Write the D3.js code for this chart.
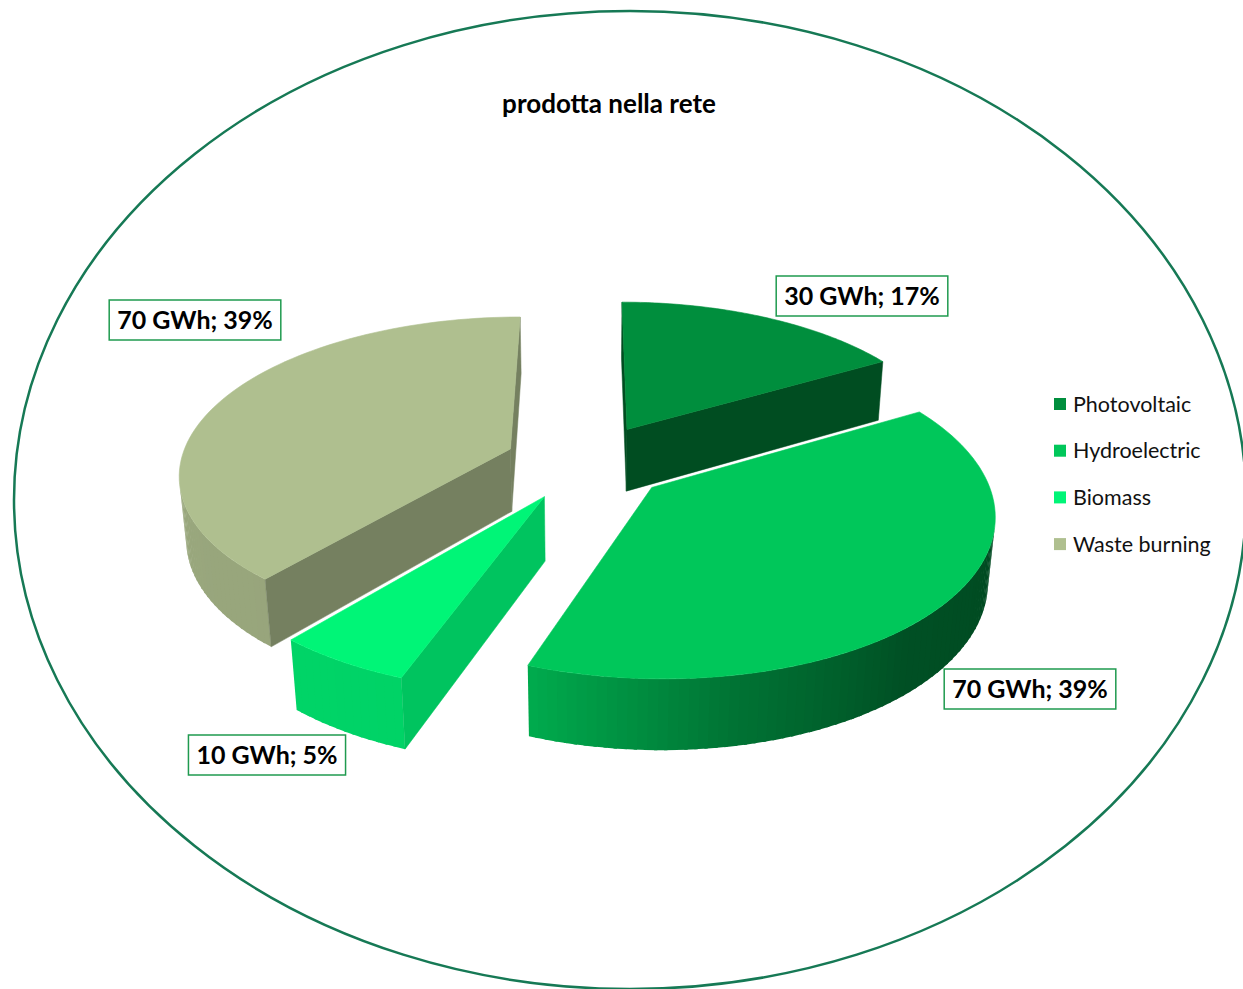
<!DOCTYPE html>
<html>
<head>
<meta charset="utf-8">
<script src="https://cdn.jsdelivr.net/npm/d3@7"></script>
<style>
  body { margin: 0; background: #fff; }
  svg { display: block; font-family: Lato, "Open Sans", sans-serif; }
</style>
</head>
<body>
<svg id="chart"></svg>
<script>
// dati
const categories = ["Photovoltaic", "Hydroelectric", "Biomass", "Waste burning"];
const energyGWh = [30, 70, 10, 70];
const sharePct = [17, 39, 5, 39];

// stile
const sliceColors = ["#008e3d", "#00c75a", "#00f577", "#afbf8f"];
const cutShade = [0.54, 0.5, 0.8, 0.67];
const labelCenters = [[862, 296], [1030, 689], [267, 755], [195, 320]];

const width = 1243, height = 989;

// vista 3D
const cx = 587, cy = 462, S = 330;
const phi = 28 * Math.PI / 180;
const D = 6;          // distanza camera (in raggi)
const explode = 0.25; // esplosione fette
const thick = 0.22;   // spessore torta

const sinP = Math.sin(phi), cosP = Math.cos(phi);
const cam = [0, D * sinP, D * cosP];

function project(X, Y, Z) {
  const u = Y * cosP - Z * sinP;
  const w = Y * sinP + Z * cosP;
  const p = D / (D - w);
  return [cx + S * X * p, cy - S * u * p, w];
}

const wallShade = d3.scaleLinear()
  .domain([90, 140, 170, 200, 270])
  .range([0.36, 0.40, 0.58, 0.86, 0.88])
  .clamp(true);

function shade(color, k) {
  const c = d3.rgb(color);
  return d3.rgb(c.r * k, c.g * k, c.b * k).formatHex();
}

const svg = d3.select("#chart")
  .attr("width", width)
  .attr("height", height);

// cornice ellittica
svg.append("ellipse")
  .attr("cx", 630).attr("cy", 500)
  .attr("rx", 616).attr("ry", 489)
  .attr("fill", "none")
  .attr("stroke", "#167955")
  .attr("stroke-width", 2.5);

// titolo
svg.append("text")
  .attr("x", 609).attr("y", 113)
  .attr("text-anchor", "middle")
  .style("font-weight", "bold")
  .style("font-size", "26px")
  .text("prodotta nella rete");

const arcs = d3.pie().sort(null).value(d => d)(energyGWh);

const slices = arcs.map((a, i) => {
  const mid = (a.startAngle + a.endAngle) / 2;
  return {
    i, a0: a.startAngle, a1: a.endAngle,
    ox: explode * Math.sin(mid),
    oz: -explode * Math.cos(mid)
  };
});

const line = d3.line();
const pie3d = svg.append("g");

function visible(n, P) {
  return n[0] * (cam[0] - P[0]) + n[1] * (cam[1] - P[1]) + n[2] * (cam[2] - P[2]) > 0;
}

// disegna dalla fetta più lontana a quella più vicina
slices.slice().sort((a, b) => a.oz - b.oz).forEach(s => {
  const base = sliceColors[s.i];
  const rim = (t, Y) => [s.ox + Math.sin(t), Y, s.oz - Math.cos(t)];
  const apex = Y => [s.ox, Y, s.oz];
  const faces = [];

  // parete esterna a strisce (leggera sovrapposizione per evitare fessure)
  const steps = Math.max(2, Math.ceil((s.a1 - s.a0) / (1.5 * Math.PI / 180)));
  const pad = 0.5 * Math.PI / 180;
  for (let k = 0; k < steps; k++) {
    const t0 = s.a0 + (s.a1 - s.a0) * k / steps;
    const t1 = Math.min(s.a1, s.a0 + (s.a1 - s.a0) * (k + 1) / steps + pad);
    const tm = (t0 + t1) / 2;
    const pts = [rim(t0, 0), rim(t1, 0), rim(t1, -thick), rim(t0, -thick)];
    const n = [Math.sin(tm), 0, -Math.cos(tm)];
    if (visible(n, rim(tm, 0))) {
      faces.push({ pts, color: shade(base, wallShade(tm * 180 / Math.PI)), order: k });
    }
  }

  // facce di taglio
  [[s.a0, s.a0 - Math.PI / 2], [s.a1, s.a1 + Math.PI / 2]].forEach(([t, nt]) => {
    const pts = [apex(0), rim(t, 0), rim(t, -thick), apex(-thick)];
    const n = [Math.sin(nt), 0, -Math.cos(nt)];
    if (visible(n, pts[0])) faces.push({ pts, color: shade(base, cutShade[s.i]), order: -1 });
  });

  faces.forEach(f => {
    f.d = line(f.pts.map(p => project(...p).slice(0, 2))) + "Z";
  });

  pie3d.selectAll(null)
    .data(faces)
    .enter()
    .append("path")
    .attr("d", f => f.d)
    .attr("fill", f => f.color)
    .attr("stroke", f => f.order < 0 ? f.color : "none")
    .attr("stroke-width", 0.5)
    .attr("stroke-linejoin", "round");

  // faccia superiore
  const top = [apex(0)];
  const n = 80;
  for (let k = 0; k <= n; k++) top.push(rim(s.a0 + (s.a1 - s.a0) * k / n, 0));
  pie3d.append("path")
    .attr("d", line(top.map(p => project(...p).slice(0, 2))) + "Z")
    .attr("fill", base)
    .attr("stroke", base)
    .attr("stroke-width", 0.6);
});

// etichette dati
const labels = svg.append("g");
categories.forEach((c, i) => {
  const [lx, ly] = labelCenters[i];
  const g = labels.append("g").attr("transform", `translate(${lx},${ly})`);
  const t = g.append("text")
    .attr("text-anchor", "middle")
    .attr("dy", "0.36em")
    .style("font-weight", "bold")
    .style("font-size", "25px")
    .text(`${energyGWh[i]} GWh; ${sharePct[i]}%`);
  const w = t.node().getComputedTextLength();
  g.insert("rect", "text")
    .attr("x", -w / 2 - 8).attr("y", -20)
    .attr("width", w + 16).attr("height", 40)
    .attr("fill", "#fff")
    .attr("stroke", "#1f9a4f")
    .attr("stroke-width", 1.5);
});

// legenda
const legend = svg.append("g").attr("transform", "translate(1054,404)");
const row = legend.selectAll("g")
  .data(categories)
  .enter()
  .append("g")
  .attr("transform", (d, i) => `translate(0,${i * 46.7})`);

row.append("rect")
  .attr("x", 0).attr("y", -6)
  .attr("width", 12).attr("height", 12)
  .attr("fill", (d, i) => sliceColors[i]);

row.append("text")
  .attr("x", 19).attr("dy", "0.35em")
  .style("font-size", "21.5px")
  .attr("fill", "#111")
  .text(d => d);
</script>
</body>
</html>
